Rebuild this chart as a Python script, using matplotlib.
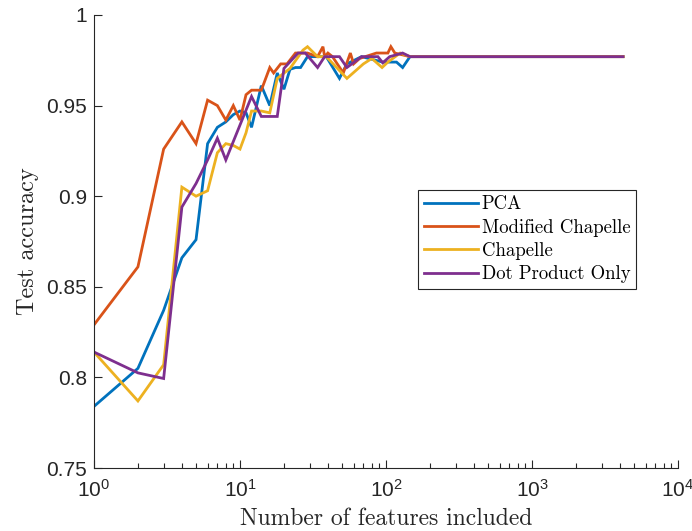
import matplotlib
matplotlib.use('Agg')
import matplotlib.pyplot as plt
from matplotlib.ticker import LogLocator, NullFormatter, FixedLocator

plt.rcParams['font.family'] = ['Liberation Sans', 'DejaVu Sans']
plt.rcParams['mathtext.fontset'] = 'custom'
plt.rcParams['mathtext.rm'] = 'Liberation Sans'
plt.rcParams['mathtext.it'] = 'Liberation Sans:italic'
plt.rcParams['mathtext.bf'] = 'Liberation Sans:bold'

# accuracy vs. number of features kept, one curve per feature selection method
pca_n = [1, 2, 3, 4, 5, 6, 7, 8, 9, 10, 11, 12, 14, 16, 18, 20, 22, 24, 26, 29,
         34, 39, 48, 54, 68, 95, 118, 130, 146, 4200]
pca_acc = [0.784, 0.805, 0.837, 0.866, 0.876, 0.929, 0.938, 0.941, 0.945, 0.947,
           0.946, 0.938, 0.961, 0.950, 0.968, 0.959, 0.970, 0.971, 0.971, 0.977,
           0.977, 0.977, 0.965, 0.973, 0.977, 0.974, 0.974, 0.971, 0.977, 0.977]

mod_n = [1, 2, 3, 4, 5, 6, 7, 8, 9, 10, 11, 12, 14, 16, 17, 19, 21, 24, 29, 34,
         37, 38, 40, 43, 51, 57, 60, 66, 86, 103, 108, 115, 146, 4200]
mod_acc = [0.829, 0.861, 0.926, 0.941, 0.929, 0.953, 0.950, 0.942, 0.950, 0.942,
           0.956, 0.9585, 0.9585, 0.971, 0.968, 0.973, 0.973, 0.979, 0.979, 0.977,
           0.9825, 0.977, 0.979, 0.977, 0.968, 0.979, 0.973, 0.976, 0.979, 0.979,
           0.9825, 0.979, 0.977, 0.977]

chap_n = [1, 2, 3, 4, 5, 6, 7, 8, 9, 10, 11, 12, 14, 16, 18, 22, 27, 29, 34, 39,
          54, 70, 80, 94, 103, 125, 146, 4200]
chap_acc = [0.814, 0.787, 0.807, 0.905, 0.900, 0.903, 0.924, 0.929, 0.928, 0.926,
            0.935, 0.947, 0.947, 0.946, 0.965, 0.9705, 0.9806, 0.9825, 0.977, 0.977,
            0.965, 0.973, 0.976, 0.971, 0.974, 0.979, 0.977, 0.977]

dot_n = [1, 2, 3, 4, 5, 6, 7, 8, 12, 14, 18, 20, 25, 28, 34, 38, 48, 54, 68, 88,
         95, 106, 130, 146, 4200]
dot_acc = [0.814, 0.8025, 0.7994, 0.894, 0.907, 0.920, 0.932, 0.920, 0.955, 0.944,
           0.944, 0.9705, 0.979, 0.979, 0.971, 0.977, 0.977, 0.971, 0.977, 0.977,
           0.9736, 0.977, 0.979, 0.977, 0.977]

labels = ['PCA', 'Modified Chapelle', 'Chapelle', 'Dot Product Only']
colours = ['#0072BD', '#D95319', '#EDB120', '#7E2F8E']
y_ticks = [0.75, 0.8, 0.85, 0.9, 0.95, 1.0]
y_tick_labels = ['0.75', '0.8', '0.85', '0.9', '0.95', '1']

axis_col = '#262626'

fig = plt.figure(figsize=(6.92, 5.31), dpi=100)
ax = fig.add_axes([0.1358, 0.1186, 0.844, 0.8532])

series = [(pca_n, pca_acc), (mod_n, mod_acc), (chap_n, chap_acc), (dot_n, dot_acc)]
for (n, acc), lab, c in zip(series, labels, colours):
    ax.plot(n, acc, color=c, lw=2, label=lab, solid_joinstyle='miter')

ax.set_xscale('log')
ax.set_xlim(1, 1e4)
ax.set_ylim(0.75, 1.0)
ax.yaxis.set_major_locator(FixedLocator(y_ticks))
ax.set_yticklabels(y_tick_labels)
ax.xaxis.set_major_locator(LogLocator(base=10, numticks=10))
ax.xaxis.set_minor_locator(LogLocator(base=10, subs=range(2, 10), numticks=20))
ax.xaxis.set_minor_formatter(NullFormatter())

for s in ['top', 'right']:
    ax.spines[s].set_visible(False)
for s in ['left', 'bottom']:
    ax.spines[s].set_color(axis_col)
    ax.spines[s].set_linewidth(0.8)

ax.tick_params(which='both', direction='in', colors=axis_col, labelsize=15,
               width=0.8)
ax.tick_params(which='major', length=6, pad=5)
ax.tick_params(which='minor', length=3.5)
ax.tick_params(axis='x', which='major', pad=8)

ax.set_xlabel('Number of features included', fontfamily='cmr10', fontsize=17,
              labelpad=5, color=axis_col)
ax.set_ylabel('Test accuracy', fontfamily='cmr10', fontsize=17.5, labelpad=5,
              color=axis_col)

leg = ax.legend(loc='upper left', bbox_to_anchor=(0.555, 0.614),
                prop={'family': 'cmr10', 'size': 13.5}, fancybox=False,
                framealpha=1, edgecolor=axis_col, borderpad=0.3,
                labelspacing=0.28, handlelength=2.9, handletextpad=0.2,
                borderaxespad=0)
leg.get_frame().set_linewidth(0.8)

fig.savefig('out.png', dpi=100)
